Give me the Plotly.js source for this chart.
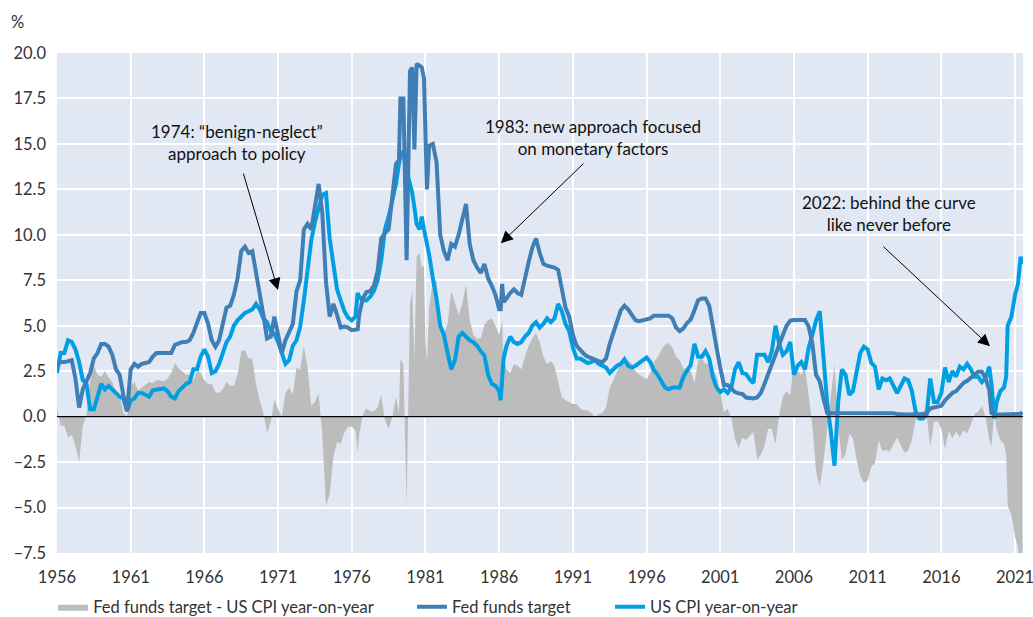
<!DOCTYPE html>
<html>
<head>
<meta charset="utf-8">
<script src="https://cdn.plot.ly/plotly-3.0.1.min.js"></script>
<style>html,body{margin:0;padding:0;background:#fff;}#chart{width:1033px;height:617px;}</style>
</head>
<body>
<div id="chart"></div>
<script>
// Time (chart position in years)
const years = [
1956.00,1956.25,1956.50,1956.75,1957.00,1957.25,1957.50,1957.75,1958.00,1958.25,1958.50,1958.75,
1959.00,1959.25,1959.50,1959.75,1960.00,1960.25,1960.50,1960.75,1961.00,1961.25,1961.50,1961.75,
1962.00,1962.25,1962.50,1962.75,1963.00,1963.25,1963.50,1963.75,1964.00,1964.25,1964.50,1964.75,
1965.00,1965.25,1965.50,1965.75,1966.00,1966.25,1966.50,1966.75,1967.00,1967.25,1967.50,1967.75,
1968.00,1968.25,1968.50,1968.75,1969.00,1969.25,1969.50,1969.75,1970.00,1970.25,1970.50,1970.75,
1971.00,1971.25,1971.50,1971.75,1972.00,1972.25,1972.50,1972.75,1973.00,1973.25,1973.50,1973.75,
1974.00,1974.25,1974.50,1974.75,1975.00,1975.25,1975.50,1975.75,1976.00,1976.25,1976.40,1976.50,1976.75,
1977.00,1977.25,1977.50,1977.75,1978.00,1978.25,1978.50,1978.75,1979.00,1979.20,1979.30,1979.50,1979.72,1979.95,
1980.10,1980.25,1980.40,1980.60,1980.75,1980.90,1981.00,1981.10,1981.25,1981.50,1981.75,
1982.00,1982.25,1982.50,1982.75,1983.00,1983.25,1983.50,1983.75,1984.00,1984.25,1984.50,1984.75,
1985.00,1985.25,1985.50,1985.75,1986.00,1986.10,1986.20,1986.30,1986.50,1986.75,
1987.00,1987.25,1987.50,1987.75,1988.00,1988.25,1988.50,1988.75,1989.00,1989.25,1989.50,1989.75,
1990.00,1990.25,1990.50,1990.75,1991.00,1991.25,1991.50,1991.75,1992.00,1992.25,1992.50,1992.75,
1993.00,1993.25,1993.50,1993.75,1994.00,1994.25,1994.50,1994.75,1995.00,1995.25,1995.50,1995.75,
1996.00,1996.25,1996.50,1996.75,1997.00,1997.25,1997.50,1997.75,1998.00,1998.25,1998.50,1998.75,
1999.00,1999.25,1999.50,1999.75,2000.00,2000.25,2000.50,2000.75,2001.00,2001.25,2001.50,2001.75,
2002.00,2002.25,2002.50,2002.75,2003.00,2003.25,2003.50,2003.75,2004.00,2004.25,2004.50,2004.75,
2005.00,2005.25,2005.50,2005.75,2006.00,2006.25,2006.50,2006.75,2007.00,2007.25,2007.50,2007.75,
2008.00,2008.25,2008.50,2008.75,2009.00,2009.25,2009.50,2009.75,2010.00,2010.25,2010.50,2010.75,
2011.00,2011.25,2011.50,2011.75,2012.00,2012.25,2012.50,2012.75,2013.00,2013.25,2013.50,2013.75,
2014.00,2014.25,2014.50,2014.75,2015.00,2015.25,2015.50,2015.75,2016.00,2016.25,2016.50,2016.75,
2017.00,2017.25,2017.50,2017.75,2018.00,2018.25,2018.50,2018.75,2019.00,2019.25,2019.40,2019.60,2019.75,
2020.00,2020.25,2020.40,2020.50,2020.75,2021.00,2021.20,2021.38,2021.50
];

// Fed funds target, %
const fedFunds = [
2.9,3.0,3.0,3.05,3.1,2.1,0.5,1.5,1.9,2.4,3.2,3.5,
4.0,4.0,3.85,3.4,2.6,2.3,1.2,0.3,2.6,2.9,2.75,2.9,
2.95,3.0,3.3,3.5,3.5,3.5,3.5,3.5,3.95,4.05,4.1,4.1,
4.2,4.6,5.1,5.7,5.7,5.1,4.2,3.85,4.2,5.0,6.0,6.1,
6.7,7.6,9.1,9.35,9.0,9.1,8.0,6.8,5.6,4.3,4.4,5.5,
4.5,3.5,4.2,4.7,5.1,6.9,7.5,10.3,10.6,10.3,11.5,12.8,
11.2,7.4,5.5,6.2,5.6,4.9,4.95,4.9,4.75,4.75,4.8,5.6,6.5,
6.85,6.9,7.2,8.0,9.8,10.1,10.3,12.0,13.9,14.1,17.5,17.5,8.6,19.0,
19.2,14.7,19.4,19.3,19.2,18.6,14.0,12.5,14.9,15.0,14.0,
10.0,9.1,8.6,9.5,9.35,10.0,10.8,11.7,9.5,8.6,8.2,7.9,
8.4,7.6,7.2,6.7,5.9,5.9,7.3,6.3,6.5,6.8,
7.0,6.8,6.7,7.7,8.5,9.3,9.8,9.0,8.4,8.3,8.25,8.2,
8.07,6.9,6.0,5.5,4.5,3.9,3.65,3.45,3.3,3.2,3.1,3.05,
3.0,3.2,4.0,4.6,5.3,5.85,6.1,5.9,5.6,5.3,5.25,5.3,
5.3,5.4,5.55,5.55,5.55,5.55,5.55,5.4,4.9,4.7,4.85,5.15,
5.35,5.85,6.4,6.5,6.5,6.1,4.8,3.8,2.7,1.74,1.74,1.55,
1.35,1.28,1.25,1.05,1.0,1.0,1.05,1.3,1.8,2.35,2.9,3.5,
4.1,4.5,5.0,5.28,5.31,5.31,5.31,5.31,4.95,4.0,2.3,1.95,
1.0,0.22,0.2,0.2,0.2,0.22,0.23,0.23,0.23,0.23,0.22,0.2,
0.2,0.2,0.2,0.2,0.2,0.18,0.18,0.18,0.15,0.12,0.12,0.12,
0.12,0.12,0.12,0.15,0.2,0.45,0.5,0.55,0.6,0.9,1.12,1.3,
1.4,1.62,1.85,1.97,2.15,2.35,2.47,2.47,2.1,1.47,0.2,0.1,0.1,
0.1,0.1,0.1,0.1,0.1,0.1,0.1,0.15,0.25
];

// US CPI year-on-year, %
const cpiYoY = [
2.4,3.5,3.5,4.2,4.1,3.7,3.0,2.0,1.8,0.4,0.4,1.2,
1.8,1.5,1.7,1.5,1.3,1.1,1.0,0.3,0.9,1.0,1.3,1.3,
1.2,1.1,1.45,1.5,1.5,1.55,1.4,1.1,1.0,1.4,1.6,1.8,
1.9,2.6,2.6,3.3,3.7,3.3,2.4,2.5,2.9,3.5,4.1,4.4,
5.0,5.3,5.5,5.7,5.8,5.9,6.2,5.9,5.4,5.2,4.7,4.55,
4.1,3.5,2.9,3.1,3.9,4.2,4.95,6.4,7.9,9.7,10.7,11.5,
12.2,12.3,9.8,8.4,7.0,6.4,5.8,5.45,5.3,5.5,6.8,6.6,6.4,
6.4,6.6,6.9,7.5,8.6,10.3,11.0,12.0,12.8,13.9,14.3,14.6,13.5,12.8,
12.3,11.5,10.6,10.3,11.0,10.3,9.9,9.5,8.9,7.6,6.5,
5.0,4.5,3.5,2.6,3.1,4.4,4.6,4.4,4.2,4.1,3.9,3.6,
3.35,2.3,1.8,1.7,1.4,0.9,2.0,3.2,3.9,4.4,
4.1,4.0,4.1,4.4,4.6,5.0,5.2,4.9,5.1,5.4,5.2,5.4,
6.2,5.8,5.1,4.7,3.8,3.2,3.2,3.1,2.95,3.0,3.1,2.9,
2.8,2.7,2.4,2.6,2.8,2.9,3.15,2.8,2.7,2.8,2.95,3.1,
3.25,3.0,2.55,2.3,1.9,1.6,1.5,1.6,1.6,1.6,2.2,2.5,
2.85,4.0,3.3,3.3,3.6,3.2,2.2,1.6,1.35,1.5,1.3,1.6,
2.6,3.0,2.4,2.35,2.05,1.85,3.4,3.4,3.4,3.0,3.6,5.0,
4.0,3.4,3.6,4.1,2.3,2.8,3.0,2.6,3.8,4.5,5.3,5.8,
3.5,0.8,-0.8,-2.7,0.8,2.6,2.3,1.2,1.4,2.6,3.5,3.85,
3.7,2.95,2.75,1.5,2.1,2.0,2.1,1.7,1.3,1.7,2.1,2.0,
1.4,0.3,-0.1,-0.1,0.1,2.1,0.8,0.8,1.3,2.7,1.9,2.5,
2.2,2.75,2.6,2.9,2.6,2.2,2.2,1.9,2.1,2.75,1.8,-0.1,0.8,
1.4,1.6,2.2,5.0,5.5,6.7,7.3,8.8,8.4
];

// Fed funds target minus US CPI year-on-year
const realGap = fedFunds.map((v, i) => +(v - cpiYoY[i]).toFixed(2));

const seriesNames = ['Fed funds target - US CPI year-on-year', 'Fed funds target', 'US CPI year-on-year'];
const xTickLabels = ['1956','1961','1966','1971','1976','1981','1986','1991','1996','2001','2006','2011','2016','2021'];
const yTickValues = [-7.5,-5,-2.5,0,2.5,5,7.5,10,12.5,15,17.5,20];
const yTickLabels = ['\u20137.5','\u20135.0','\u20132.5','0.0','2.5','5.0','7.5','10.0','12.5','15.0','17.5','20.0'];

const FONT = 'Lato, "Open Sans", sans-serif';

const traces = [
  {x: years, y: realGap, type: 'scatter', mode: 'lines', name: seriesNames[0], legend: 'legend',
   fill: 'tozeroy', fillcolor: '#bcbcbc', line: {width: 0, color: '#bcbcbc'}},
  {x: years, y: cpiYoY, type: 'scatter', mode: 'lines', name: seriesNames[2], legend: 'legend3',
   line: {width: 4, color: '#009fe3'}},
  {x: years, y: fedFunds, type: 'scatter', mode: 'lines', name: seriesNames[1], legend: 'legend2',
   line: {width: 4, color: '#3f7fb6'}}
];

const legFont = {family: FONT, size: 16.5, color: '#333333'};
const legBase = {orientation: 'h', xanchor: 'left', yref: 'container', y: 0.016, yanchor: 'middle',
                 font: legFont, bgcolor: 'rgba(0,0,0,0)', borderwidth: 0};
const annFont = {family: FONT, size: 17, color: '#111111'};
const layout = {
  width: 1033, height: 617,
  margin: {l: 57, r: 10, t: 53, b: 64, pad: 0},
  paper_bgcolor: '#ffffff', plot_bgcolor: '#e2e8f3',
  font: {family: FONT, size: 16, color: '#333333'},
  showlegend: true,
  legend: Object.assign({}, legBase, {x: -0.004}),
  legend2: Object.assign({}, legBase, {x: 0.3675}),
  legend3: Object.assign({}, legBase, {x: 0.5725}),
  xaxis: {range: [1956, 2021.54], tickmode: 'array', tickvals: xTickLabels.map(Number), ticktext: xTickLabels,
          showgrid: true, gridcolor: '#ffffff', gridwidth: 2, zeroline: false, showline: false, ticks: '',
          ticklabelstandoff: 12, ticklabeloverflow: 'allow', automargin: false,
          tickfont: {family: FONT, size: 16.5, color: '#333333'}, fixedrange: true},
  yaxis: {range: [-7.5, 20], tickmode: 'array', tickvals: yTickValues, ticktext: yTickLabels,
          showgrid: true, gridcolor: '#ffffff', gridwidth: 2, zeroline: false, showline: false, ticks: '',
          ticklabelstandoff: 10, ticklabeloverflow: 'allow', automargin: false,
          tickfont: {family: FONT, size: 16.5, color: '#333333'}, fixedrange: true},
  shapes: [
    {type: 'line', xref: 'paper', x0: 0, x1: 1, yref: 'y', y0: 0, y1: 0, layer: 'above',
     line: {color: '#000000', width: 1.3}}
  ],
  annotations: [
    {xref: 'paper', yref: 'paper', x: -0.0404, y: 1.062, text: '%', showarrow: false,
     font: {family: FONT, size: 16.5, color: '#333333'}, xanchor: 'center', yanchor: 'middle'},
    {x: 1968.2, y: 15.07, xref: 'x', yref: 'y', text: '1974: \u201cbenign-neglect\u201d<br>approach to policy',
     showarrow: false, font: annFont, align: 'center'},
    {x: 1992.36, y: 15.35, xref: 'x', yref: 'y', text: '1983: new approach focused<br>on monetary factors',
     showarrow: false, font: annFont, align: 'center'},
    {x: 2012.45, y: 11.17, xref: 'x', yref: 'y', text: '2022: behind the curve<br>like never before',
     showarrow: false, font: annFont, align: 'center'},
    {x: 1970.99, y: 6.96, xref: 'x', yref: 'y', text: '', showarrow: true, ax: -35, ay: -118,
     arrowhead: 2, arrowsize: 2.4, arrowwidth: 1, arrowcolor: '#000000', standoff: 0},
    {x: 1986.12, y: 9.54, xref: 'x', yref: 'y', text: '', showarrow: true, ax: 84, ay: -81,
     arrowhead: 2, arrowsize: 2.4, arrowwidth: 1, arrowcolor: '#000000', standoff: 0},
    {x: 2019.3, y: 3.87, xref: 'x', yref: 'y', text: '', showarrow: true, ax: -108, ay: -101,
     arrowhead: 2, arrowsize: 2.4, arrowwidth: 1, arrowcolor: '#000000', standoff: 0}
  ]
};

Plotly.newPlot('chart', traces, layout, {displayModeBar: false, staticPlot: true});
</script>
</body>
</html>
